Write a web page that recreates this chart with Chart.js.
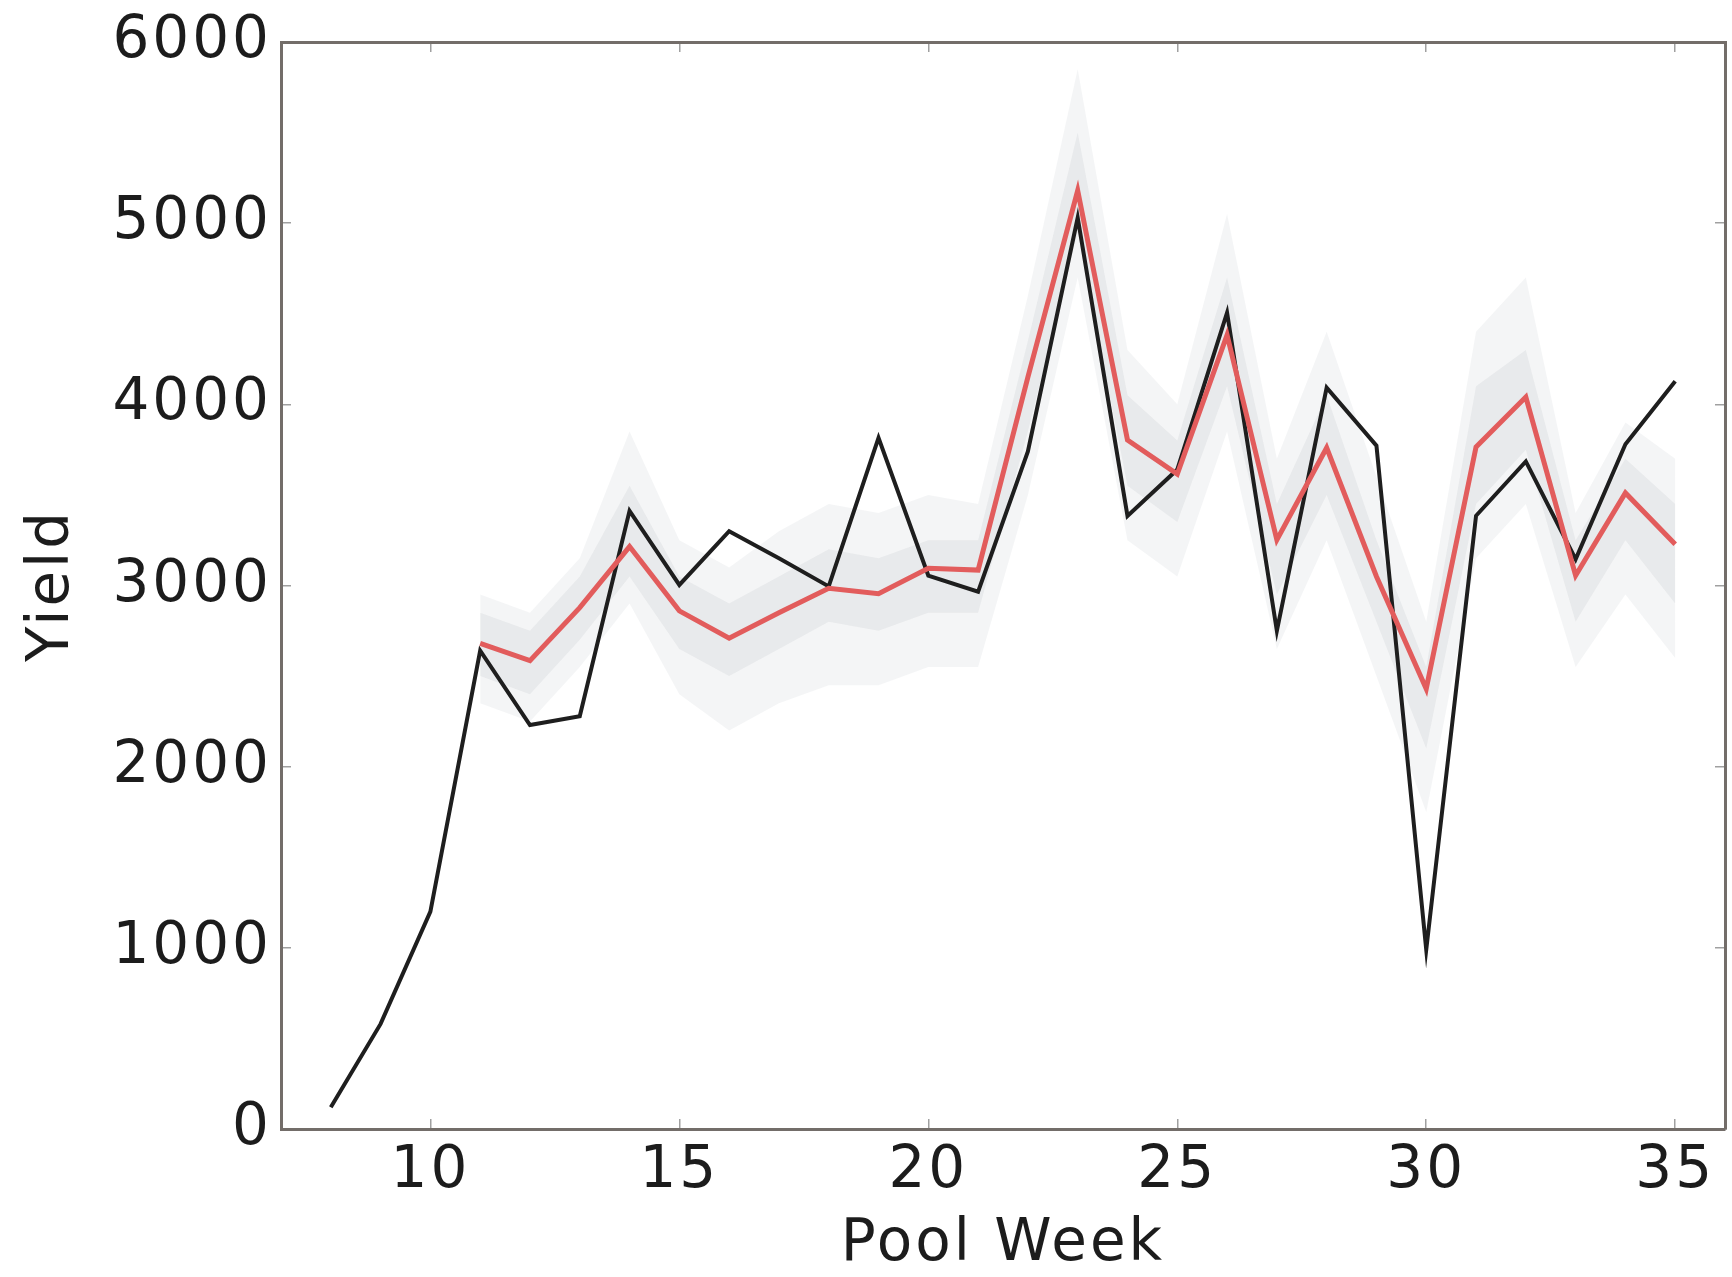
<!DOCTYPE html>
<html><head><meta charset="utf-8">
<script src="https://cdn.jsdelivr.net/npm/chart.js@4/dist/chart.umd.min.js"></script>
<style>html,body{margin:0;padding:0;background:#fff;overflow:hidden}</style>
</head><body>
<canvas id="c" width="1732" height="1277"></canvas>
<script>
const observedWeeks = [8,9,10,11,12,13,14,15,16,17,18,19,20,21,22,23,24,25,26,27,28,29,30,31,32,33,34,35];
const observedYield = [120,580,1200,2640,2230,2278,3412,3003,3300,3150,2995,3815,3055,2966,3740,5030,3384,3640,4506,2750,4092,3772,990,3385,3685,3145,3780,4128];
const modelWeeks = [11,12,13,14,15,16,17,18,19,20,21,22,23,24,25,26,27,28,29,30,31,32,33,34,35];
const meanYield = [2680,2585,2878,3215,2860,2709,2850,2985,2955,3095,3085,4150,5180,3803,3615,4383,3252,3760,3050,2430,3765,4040,3055,3511,3228];
const outerUpper = [2950,2850,3150,3850,3250,3100,3300,3450,3400,3500,3450,4600,5850,4300,4000,5050,3700,4400,3600,2800,4400,4700,3400,3900,3700];
const outerLower = [2350,2250,2550,2900,2400,2200,2350,2450,2450,2550,2550,3500,4700,3250,3050,3850,2650,3250,2500,1750,3150,3450,2550,2950,2600];
const innerUpper = [2850,2750,3050,3550,3050,2900,3050,3200,3150,3250,3250,4350,5500,4050,3800,4700,3450,4050,3250,2550,4100,4300,3250,3700,3450];
const innerLower = [2500,2400,2700,3050,2650,2500,2650,2800,2750,2850,2850,3850,4950,3550,3350,4100,2950,3500,2800,2100,3450,3750,2800,3250,2900];
const xTickValues = [10,15,20,25,30,35];
const yTickValues = [0,1000,2000,3000,4000,5000,6000];
const xTitle = 'Pool Week';
const yTitle = 'Yield';

const pts = (xs, ys) => xs.map((x, i) => ({x: x, y: ys[i]}));
const FONT = {family: "'DejaVu Sans', sans-serif", size: 58};
const XTITLE_FONT = {family: "'DejaVu Sans', sans-serif", size: 58, lineHeight: 1.1};
const TEXT = '#1c1c1c';
const FRAME = '#736d69';

const spacing = {
  id: 'spacing',
  beforeUpdate(chart) { chart.ctx.letterSpacing = '3px'; },
  beforeLayout(chart) { chart.ctx.letterSpacing = '3px'; },
  beforeDraw(chart) { chart.ctx.letterSpacing = '3px'; }
};

const keepTicks = vals => scale => { scale.ticks = vals.map(v => ({value: v})); };
const plain = v => String(v);

const tickGrid = {drawOnChartArea: false, drawTicks: true, tickLength: -10, color: '#a0a0a0', lineWidth: 1.5};
const frameBorder = {display: true, color: FRAME, width: 3};

new Chart(document.getElementById('c'), {
  type: 'line',
  data: {
    datasets: [
      {data: pts(modelWeeks, meanYield), borderColor: '#e25c5c', borderWidth: 5, pointRadius: 0, fill: false, tension: 0},
      {data: pts(observedWeeks, observedYield), borderColor: '#1e1e1e', borderWidth: 4, pointRadius: 0, fill: false, tension: 0},
      {data: pts(modelWeeks, innerUpper), borderWidth: 0, borderColor: 'rgba(0,0,0,0)', pointRadius: 0, fill: '+1', backgroundColor: 'rgba(200,205,210,0.28)'},
      {data: pts(modelWeeks, innerLower), borderWidth: 0, borderColor: 'rgba(0,0,0,0)', pointRadius: 0, fill: false},
      {data: pts(modelWeeks, outerUpper), borderWidth: 0, borderColor: 'rgba(0,0,0,0)', pointRadius: 0, fill: '+1', backgroundColor: 'rgba(218,221,224,0.3)'},
      {data: pts(modelWeeks, outerLower), borderWidth: 0, borderColor: 'rgba(0,0,0,0)', pointRadius: 0, fill: false}
    ]
  },
  plugins: [spacing],
  options: {
    responsive: false,
    animation: false,
    devicePixelRatio: 1,
    layout: {padding: {top: 42, right: 7, left: 0, bottom: 0}},
    plugins: {legend: {display: false}, tooltip: {enabled: false}},
    scales: {
      x: {
        type: 'linear', position: 'bottom', min: 7, max: 36,
        afterBuildTicks: keepTicks(xTickValues),
        afterFit: s => { s.height = 148; s.paddingLeft = 0; s.paddingRight = 0; },
        grid: tickGrid, border: frameBorder,
        ticks: {font: FONT, color: TEXT, padding: 18, maxRotation: 0, autoSkip: false, callback: plain},
        title: {display: true, text: xTitle, font: XTITLE_FONT, color: TEXT, padding: {top: 0, bottom: 0}}
      },
      x2: {
        type: 'linear', position: 'top', min: 7, max: 36,
        afterBuildTicks: keepTicks(xTickValues),
        afterFit: s => { s.height = 0; s.paddingLeft = 0; s.paddingRight = 0; },
        grid: tickGrid, border: frameBorder,
        ticks: {display: false}
      },
      y: {
        type: 'linear', position: 'left', min: 0, max: 6000,
        afterBuildTicks: keepTicks(yTickValues),
        afterFit: s => { s.width = 281; s.paddingTop = 0; s.paddingBottom = 0; },
        grid: tickGrid, border: frameBorder,
        ticks: {font: FONT, color: TEXT, padding: 19, autoSkip: false, callback: plain},
        title: {display: true, text: yTitle, font: FONT, color: TEXT, padding: {top: 18, bottom: 0}}
      },
      y2: {
        type: 'linear', position: 'right', min: 0, max: 6000,
        afterBuildTicks: keepTicks(yTickValues),
        afterFit: s => { s.width = 0; s.paddingTop = 0; s.paddingBottom = 0; },
        grid: tickGrid, border: frameBorder,
        ticks: {display: false}
      }
    }
  }
});
</script>
</body></html>
